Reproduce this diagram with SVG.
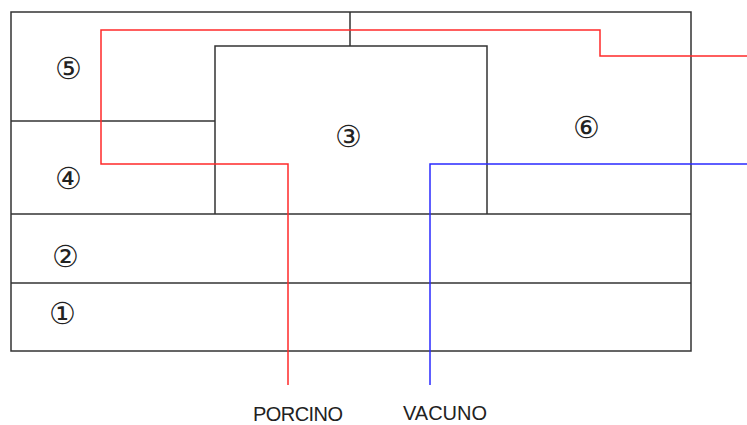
<svg xmlns="http://www.w3.org/2000/svg" width="747" height="425" viewBox="0 0 747 425">
<style>
.w{fill:none;stroke:#333;stroke-width:1.5}
.r{fill:none;stroke:#ff2a2a;stroke-width:1.5}
.b{fill:none;stroke:#2a2aff;stroke-width:1.5}
.n{font-family:"DejaVu Sans",sans-serif;font-weight:200;font-size:30px;fill:#222;text-anchor:middle;dominant-baseline:central}
.t{font-family:"Liberation Sans",sans-serif;font-size:20px;fill:#222}
</style>
<rect width="747" height="425" fill="#fff"/>
<g id="plan">
<rect class="w" x="11" y="12" width="680" height="339"/>
<line class="w" x1="11" y1="214" x2="691" y2="214"/>
<line class="w" x1="11" y1="283" x2="691" y2="283"/>
<line class="w" x1="11" y1="121" x2="215" y2="121"/>
<polyline class="w" points="215,214 215,46 487,46 487,214"/>
<line class="w" x1="350" y1="12" x2="350" y2="46"/>
</g>
<g id="connectors">
<polyline class="r" points="288,385 288,164 101,164 101,30 600,30 600,56 747,56"/>
<polyline class="b" points="430,385 430,164 747,164"/>
</g>
<g id="n5"><text class="n" x="68" y="68">⑤</text></g>
<g id="n4"><text class="n" x="68" y="178">④</text></g>
<g id="n3"><text class="n" x="348" y="136">③</text></g>
<g id="n6"><text class="n" x="586" y="127">⑥</text></g>
<g id="n2"><text class="n" x="65" y="256">②</text></g>
<g id="n1"><text class="n" x="62" y="313">①</text></g>
<g id="labels">
<text class="t" x="253" y="421" textLength="90">PORCINO</text>
<text class="t" x="403" y="420" textLength="84">VACUNO</text>
</g>
</svg>
